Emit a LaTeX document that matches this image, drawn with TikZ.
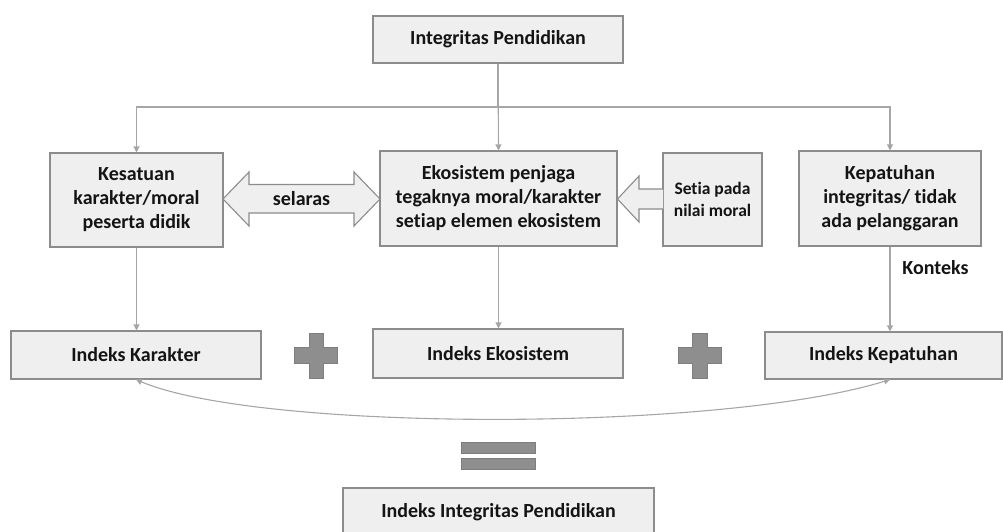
\documentclass[tikz,border=0pt]{standalone}
\usepackage{fontspec}
\setmainfont[Ligatures=NoCommon]{Carlito}
\usetikzlibrary{arrows.meta}
\definecolor{boxfill}{HTML}{EFEFEF}
\definecolor{boxline}{HTML}{8C8C8C}
\definecolor{conn}{HTML}{A6A6A6}
\definecolor{symfill}{HTML}{8E8E8E}
\definecolor{txt}{HTML}{141414}
\tikzset{
  box/.style={draw=boxline, line width=1.1pt, fill=boxfill, inner sep=0pt, align=center,
    font=\fontsize{20}{24}\selectfont\bfseries, text=txt},
  smallbox/.style={box, font=\fontsize{17.5}{22}\selectfont\bfseries},
  conarrow/.style={draw=conn, line width=1.1pt, -{Triangle[length=6pt,width=6pt]}},
  conline/.style={draw=conn, line width=1.1pt},
  blockarrow/.style={draw=boxline, line width=1.1pt, fill=boxfill},
  sym/.style={draw=boxline!90!black, line width=0.8pt, fill=symfill},
  lbl/.style={font=\fontsize{20}{24}\selectfont\bfseries, text=txt, inner sep=0pt}
}
\begin{document}
\begin{tikzpicture}[x=1pt,y=-1pt]
\useasboundingbox (0,0) rectangle (1003,531);
\clip (0,0) rectangle (1003,531);
% top
\node[box, minimum width=250pt, minimum height=47pt] (top) at (498,39.5) {Integritas Pendidikan};
% middle row
\node[box, minimum width=173pt, minimum height=94pt] (kes) at (136.5,200) {Kesatuan\\karakter/moral\\peserta didik};
\node[box, minimum width=237pt, minimum height=95pt] (eko) at (498.5,198.5) {Ekosistem penjaga\\tegaknya moral/karakter\\setiap elemen ekosistem};
\node[smallbox, minimum width=99pt, minimum height=93pt] (setia) at (712.5,199.5) {Setia pada\\nilai moral};
\node[box, minimum width=182pt, minimum height=95pt] (kep) at (890,198.5) {Kepatuhan\\integritas/ tidak\\ada pelanggaran};
% bottom row
\node[box, minimum width=250pt, minimum height=48pt] (ik) at (136,355) {Indeks Karakter};
\node[box, minimum width=250pt, minimum height=49pt] (ie) at (498,353.5) {Indeks Ekosistem};
\node[box, minimum width=237pt, minimum height=47pt] (ikp) at (883.5,355.5) {Indeks Kepatuhan};
\node[box, minimum width=311pt, minimum height=48pt] (iip) at (498.5,512) {Indeks Integritas Pendidikan};
% connectors from top
\coordinate (j) at (498,107);
\draw[conline] (top.south) -- (j);
\draw[conarrow] (j) -| (kes.north);
\draw[conarrow] (j) -| (kep.north);
\draw[conarrow] (top.south) -- (eko.north);
% vertical connectors down
\draw[conarrow] (kes.south) -- (ik.north -| kes.south);
\draw[conarrow] (eko.south) -- (ie.north -| eko.south);
\draw[conarrow] (kep.south) -- (ikp.north -| kep.south);
\node[lbl] (konteks) at (935.5,268) {Konteks};
% selaras double block arrow
\draw[blockarrow] (223,199) -- (249,172) -- (249,184.5) -- (354,184.5) -- (354,172) -- (380,199)
  -- (354,226) -- (354,213) -- (249,213) -- (249,226) -- cycle;
\node[lbl] (selaras) at (301.5,199) {selaras};
% setia block arrow
\draw[blockarrow] (663,189) -- (639,189) -- (639,176) -- (617.5,199) -- (639,222) -- (639,209) -- (663,209);
% plus signs
\draw[sym] (309,333) -- (323,333) -- (323,347) -- (337,347) -- (337,363) -- (323,363) -- (323,378)
  -- (309,378) -- (309,363) -- (294,363) -- (294,347) -- (309,347) -- cycle;
\draw[sym] (692,333) -- (707,333) -- (707,347) -- (721,347) -- (721,363) -- (707,363) -- (707,378)
  -- (692,378) -- (692,363) -- (678,363) -- (678,347) -- (692,347) -- cycle;
% curve
\draw[conline, {Triangle[length=6pt,width=6pt]}-{Triangle[length=6pt,width=6pt]}]
  (ik.south) .. controls (260,432) and (720,432) .. (ikp.south -| kep.south);
% equals
\draw[sym] (461,442) rectangle (535,453);
\draw[sym] (461,458) rectangle (535,469);
\end{tikzpicture}
\end{document}
